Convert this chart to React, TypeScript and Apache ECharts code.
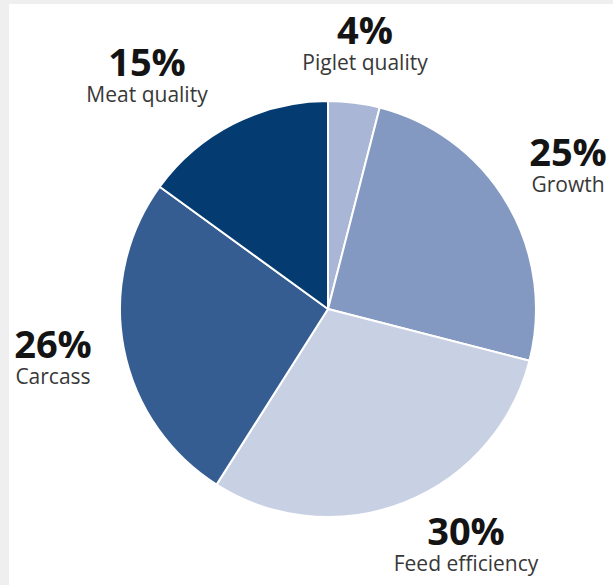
import React, { useEffect, useRef } from "react";
import * as echarts from "echarts";

const categories = ["Piglet quality", "Growth", "Feed efficiency", "Carcass", "Meat quality"];
const shares = [4, 25, 30, 26, 15];
const colors = ["#a9b6d5", "#8499c1", "#c8d0e4", "#365d92", "#043c72"];
// label block centres (layout only)
const labelCentres: [number, number][] = [
  [365, 42],
  [568, 164],
  [466, 543],
  [53, 356],
  [147, 74],
];

export default function App() {
  const ref = useRef<HTMLDivElement>(null);
  useEffect(() => {
    if (!ref.current) return;
    const chart = echarts.init(ref.current, undefined, { renderer: "svg" });
    chart.setOption({
      animation: false,
      backgroundColor: "#efefef",
      graphic: [
        {
          type: "rect",
          z: -10,
          shape: { x: 9, y: 4, width: 604, height: 581 },
          style: { fill: "#ffffff" },
        },
      ],
      series: [
        {
          type: "pie",
          z: 2,
          center: [328, 309],
          radius: 208,
          startAngle: 90,
          clockwise: true,
          itemStyle: { borderColor: "#ffffff", borderWidth: 2 },
          labelLine: { show: false },
          label: {
            show: true,
            position: "outside",
            overflow: "none",
            formatter: (p: any) => `{p|${p.value}%}\n{n|${p.name}}`,
            rich: {
              p: {
                fontFamily: "Open Sans",
                fontSize: 38,
                fontWeight: "bold",
                color: "#141414",
                lineHeight: 40,
                align: "center",
              },
              n: {
                fontFamily: "Open Sans",
                fontSize: 21,
                color: "#383838",
                lineHeight: 26,
                align: "center",
              },
            },
          },
          labelLayout: (params: any) => {
            const c = labelCentres[params.dataIndex];
            return { x: c[0], y: c[1], align: "center", verticalAlign: "middle" };
          },
          emphasis: { disabled: true },
          data: categories.map((name, i) => ({
            name,
            value: shares[i],
            itemStyle: { color: colors[i] },
          })),
        },
      ],
    });
    return () => chart.dispose();
  }, []);
  return (
    <div
      ref={ref}
      style={{ position: "fixed", left: 0, top: 0, width: 613, height: 585 }}
    />
  );
}
